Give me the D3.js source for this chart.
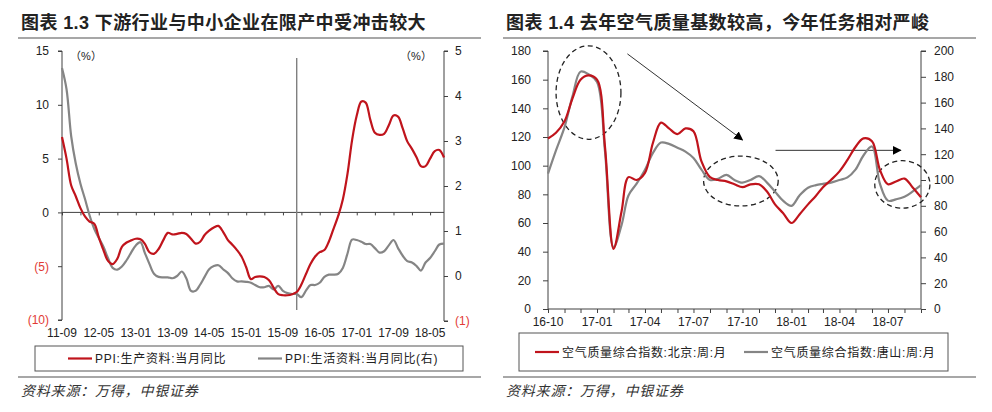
<!DOCTYPE html>
<html><head><meta charset="utf-8">
<script src="https://cdn.jsdelivr.net/npm/d3@7"></script>
<style>
body{margin:0;background:#fff}
svg{display:block}
text{font-family:"Liberation Sans","Noto Sans CJK SC",sans-serif}
</style>
</head><body>
<svg id="c" width="992" height="412"></svg>
<script>
// ---------------- Chart 1.3 data ----------------
const ppiTitle = "图表 1.3 下游行业与中小企业在限产中受冲击较大";
const ppiStart = "2011-09-01", ppiEnd = "2018-08-01";
const ppiProduction = [7.0,5.0,2.5,1.5,0.4,-0.4,-0.85,-1.05,-2.3,-3.5,-4.5,-4.8,-4.3,-3.2,-2.8,-2.6,-2.45,-2.5,-2.9,-3.7,
  -3.85,-3.4,-2.6,-1.9,-2.05,-2.0,-1.9,-2.0,-2.45,-2.9,-2.75,-2.1,-1.7,-1.4,-1.25,-1.8,-2.55,-3.0,-3.5,-4.1,
  -5.1,-6.2,-6.0,-5.95,-6.0,-6.3,-7.0,-7.6,-7.7,-7.7,-7.6,-7.4,-6.7,-5.7,-4.8,-4.1,-3.7,-3.5,-2.7,-1.5,
  -0.3,1.2,3.6,6.7,9.0,10.3,10.2,8.6,7.4,7.2,7.3,8.1,9.0,8.9,7.8,6.6,5.9,5.1,4.3,4.3,
  5.0,5.7,5.8,5.1];
const ppiConsumer = [4.62,4.15,3.1,2.5,2.05,1.7,1.35,1.05,0.85,0.65,0.4,0.18,0.14,0.21,0.35,0.52,0.68,0.75,0.52,0.27,
  0.05,-0.02,-0.03,-0.03,-0.05,0.0,0.1,-0.05,-0.33,-0.33,-0.2,-0.02,0.15,0.22,0.24,0.15,0.07,-0.05,-0.12,-0.12,
  -0.13,-0.15,-0.2,-0.25,-0.25,-0.22,-0.3,-0.22,-0.33,-0.38,-0.4,-0.4,-0.47,-0.32,-0.2,-0.2,-0.15,-0.02,0.03,0.03,
  0.05,0.18,0.5,0.81,0.8,0.76,0.71,0.71,0.62,0.52,0.55,0.68,0.8,0.62,0.45,0.33,0.3,0.22,0.12,0.3,
  0.4,0.55,0.7,0.72];
const ppiLeftTicks = [-10,-5,0,5,10,15];
const ppiRightTicks = [-1,0,1,2,3,4,5];
const ppiLabelMonths = ["2011-09","2012-05","2013-01","2013-09","2014-05","2015-01","2015-09","2016-05","2017-01","2017-09","2018-05"];
const ppiMarkMonth = "2015-12";
const ppiLegend = ["PPI:生产资料:当月同比","PPI:生活资料:当月同比(右)"];

// ---------------- Chart 1.4 data ----------------
const airTitle = "图表 1.4 去年空气质量基数较高，今年任务相对严峻";
const airStart = "2016-10-01", airEnd = "2018-09-01";
// half-month samples from 2016-10 (start of month, mid month, ...)
const airBeijing = [119,123,131,147,160,163,160,113,42,68,92,90,95,116,130,126,122,126,124,103,
  92,90,89,87,85,87,87,82,73,67,60,66,73,79,85,90,96,104,113,119,
  117,97,87,89,91,85,78];
const airTangshan = [105,123,141,165,184,182,176,122,48,65,88,97,108,121,129,128,125,122,117,108,
  100,101,104,100,98,100,103,98,91,84,80,88,94,96,97,98,100,102,108,119,
  126,97,84,85,87,91,96];
const airLeftTicks = [0,20,40,60,80,100,120,140,160,180];
const airRightTicks = [0,20,40,60,80,100,120,140,160,180,200];
const airLabelMonths = ["2016-10","2017-01","2017-04","2017-07","2017-10","2018-01","2018-04","2018-07"];
const airLegend = ["空气质量综合指数:北京:周:月","空气质量综合指数:唐山:周:月"];
// annotations in data units: [centerDate, centerValue(left axis), radiusMonths, radiusValue]
const airEllipses = [["2016-12-16",151,2.0,32.6],["2017-09-28",89.3,2.3,17.4],["2018-07-28",86.9,1.7,16.6]];
const airArrows = [[["2017-02-27",178],["2017-10-01",118]],[["2017-12-02",110.7],["2018-07-25",110.7]]];
const sourceText = "资料来源：万得，中银证券";

const RED = "#c0141c", GRAY = "#858585", AXIS = "#404040", NEG = "#e23a35";
const svg = d3.select("#c");
const parse = d3.timeParse("%Y-%m-%d");
const parseM = d3.timeParse("%Y-%m");
const fmtM = d3.timeFormat("%y-%m");
const negFmt = v => v < 0 ? `(${-v})` : `${v}`;

svg.append("defs").append("marker").attr("id","arr").attr("viewBox","0 0 10 10")
  .attr("refX",9).attr("refY",5).attr("markerWidth",9).attr("markerHeight",9).attr("orient","auto")
  .attr("markerUnits","userSpaceOnUse")
  .append("path").attr("d","M0,0L10,5L0,10Z").attr("fill","#000");

function frame(x0, x1, title) {
  svg.append("text").attr("x", x0 + 3).attr("y", 29).attr("font-size", 18).attr("font-weight", 700)
    .attr("letter-spacing", 0.4).attr("fill", "#222").text(title);
  svg.append("line").attr("x1", x0).attr("x2", x1).attr("y1", 38).attr("y2", 38).attr("stroke", "#8a8a8a").attr("stroke-width", 1.6);
  svg.append("line").attr("x1", x0).attr("x2", x1).attr("y1", 377).attr("y2", 377).attr("stroke", "#8a8a8a").attr("stroke-width", 1.6);
  svg.append("text").attr("x", x0 + 3).attr("y", 396).attr("font-size", 14).attr("font-style", "italic")
    .attr("letter-spacing", 0.8).attr("fill", "#333").text(sourceText);
}

function legend(bx, by, bw, bh, items) {
  svg.append("rect").attr("x", bx).attr("y", by).attr("width", bw).attr("height", bh)
    .attr("fill", "none").attr("stroke", "#555").attr("stroke-width", 1);
  items.forEach(it => {
    svg.append("line").attr("x1", it.x).attr("x2", it.x + 24).attr("y1", by + bh / 2).attr("y2", by + bh / 2)
      .attr("stroke", it.color).attr("stroke-width", 2.2);
    svg.append("text").attr("x", it.x + 27).attr("y", by + bh / 2 + 4.5).attr("font-size", 12)
      .attr("letter-spacing", 0.7).attr("fill", "#222").text(it.label);
  });
}

// ================= Chart 1.3 =================
{
  frame(18, 481, ppiTitle);
  const months = d3.timeMonth.range(parse(ppiStart), d3.timeMonth.offset(parse(ppiEnd), 1));
  const x = d3.scaleTime().domain([parse(ppiStart), parse(ppiEnd)]).range([62, 444]);
  const yL = d3.scaleLinear().domain([-10, 15]).range([320, 51]);
  const yR = d3.scaleLinear().domain([-1, 5]).range([321, 51]);

  const gl = svg.append("g").attr("transform", "translate(62,0)")
    .call(d3.axisLeft(yL).tickValues(ppiLeftTicks).tickSize(4).tickPadding(9).tickFormat(negFmt));
  gl.select(".domain").attr("stroke", AXIS).attr("d", `M-4,${yL(15)}H0V${yL(-10)}H-4`);
  gl.selectAll(".tick line").attr("stroke", AXIS);
  gl.selectAll(".tick text").attr("font-size", 12).attr("fill", d => d < 0 ? NEG : "#222")
    .attr("font-family", '"Liberation Sans",Arial,sans-serif');

  const gr = svg.append("g").attr("transform", "translate(444,0)")
    .call(d3.axisRight(yR).tickValues(ppiRightTicks).tickSize(4).tickPadding(7).tickFormat(negFmt));
  gr.select(".domain").attr("stroke", AXIS).attr("d", `M4,${yR(5)}H0V${yR(-1)}H4`);
  gr.selectAll(".tick line").attr("stroke", AXIS);
  gr.selectAll(".tick text").attr("font-size", 12).attr("fill", d => d < 0 ? NEG : "#222")
    .attr("font-family", '"Liberation Sans",Arial,sans-serif');

  const tickDates = d3.timeMonth.range(parse(ppiStart), parse(ppiEnd), 4);
  const gx = svg.append("g").attr("transform", `translate(0,${yL(0)})`)
    .call(d3.axisBottom(x).tickValues(tickDates).tickSize(3).tickFormat(""));
  gx.select(".domain").attr("stroke", AXIS).attr("d", `M${x.range()[0]},0H${x.range()[1]}`);
  gx.selectAll(".tick line").attr("stroke", AXIS);

  svg.append("g").selectAll("text").data(ppiLabelMonths).join("text")
    .attr("x", d => x(parseM(d))).attr("y", 337).attr("text-anchor", "middle").attr("font-size", 12)
    .attr("fill", "#222").attr("font-family", '"Liberation Sans",Arial,sans-serif')
    .text(d => fmtM(parseM(d)));

  svg.append("text").attr("x", 86).attr("y", 60).attr("text-anchor", "middle").attr("font-size", 11).attr("fill", "#222").text("（%）");
  svg.append("text").attr("x", 416).attr("y", 60).attr("text-anchor", "middle").attr("font-size", 11).attr("fill", "#222").text("（%）");

  svg.append("line").attr("x1", x(parseM(ppiMarkMonth))).attr("x2", x(parseM(ppiMarkMonth)))
    .attr("y1", 58).attr("y2", 310).attr("stroke", "#808080").attr("stroke-width", 1.4);

  const lineL = d3.line().x((d, i) => x(months[i])).y(d => yL(d)).curve(d3.curveCatmullRom.alpha(0.5));
  const lineR = d3.line().x((d, i) => x(months[i])).y(d => yR(d)).curve(d3.curveCatmullRom.alpha(0.5));
  svg.append("path").attr("d", lineR(ppiConsumer)).attr("fill", "none").attr("stroke", GRAY).attr("stroke-width", 2.2);
  svg.append("path").attr("d", lineL(ppiProduction)).attr("fill", "none").attr("stroke", RED).attr("stroke-width", 2.2);

  legend(35, 346, 428, 25, [{x: 68, color: RED, label: ppiLegend[0]}, {x: 258, color: GRAY, label: ppiLegend[1]}]);
}

// ================= Chart 1.4 =================
{
  frame(503, 976, airTitle);
  const months = d3.timeMonth.range(parse(airStart), d3.timeMonth.offset(parse(airEnd), 1));
  const dates = [];
  months.forEach((m, i) => { dates.push(m); if (i < months.length - 1) dates.push(d3.timeDay.offset(m, 15)); });
  const x = d3.scaleTime().domain([parse(airStart), parse(airEnd)]).range([548, 921]);
  const yL = d3.scaleLinear().domain([0, 180]).range([309, 51]);
  const yR = d3.scaleLinear().domain([0, 200]).range([309, 51]);

  const gl = svg.append("g").attr("transform", "translate(548,0)")
    .call(d3.axisLeft(yL).tickValues(airLeftTicks).tickSize(5).tickPadding(12));
  gl.select(".domain").attr("stroke", AXIS).attr("d", `M-5,${yL(180)}H0V${yL(0)}`);
  gl.selectAll(".tick line").attr("stroke", AXIS);
  gl.selectAll(".tick text").attr("font-size", 12).attr("fill", "#222").attr("font-family", '"Liberation Sans",Arial,sans-serif');

  const gr = svg.append("g").attr("transform", "translate(921,0)")
    .call(d3.axisRight(yR).tickValues(airRightTicks).tickSize(5).tickPadding(8));
  gr.select(".domain").attr("stroke", AXIS).attr("d", `M5,${yR(200)}H0V${yR(0)}`);
  gr.selectAll(".tick line").attr("stroke", AXIS);
  gr.selectAll(".tick text").attr("font-size", 12).attr("fill", "#222").attr("font-family", '"Liberation Sans",Arial,sans-serif');

  const gx = svg.append("g").attr("transform", `translate(0,309)`)
    .call(d3.axisBottom(x).tickValues(months).tickSize(4).tickFormat(""));
  gx.select(".domain").attr("stroke", AXIS).attr("d", `M548,0H921`);
  gx.selectAll(".tick line").attr("stroke", AXIS);

  svg.append("g").selectAll("text").data(airLabelMonths).join("text")
    .attr("x", d => x(parseM(d))).attr("y", 326).attr("text-anchor", "middle").attr("font-size", 12)
    .attr("fill", "#222").attr("font-family", '"Liberation Sans",Arial,sans-serif')
    .text(d => fmtM(parseM(d)));

  const pxPerMonth = (x.range()[1] - x.range()[0]) / (months.length - 1);
  const pxPerUnit = (yL.range()[0] - yL.range()[1]) / 180;
  svg.append("g").selectAll("ellipse").data(airEllipses).join("ellipse")
    .attr("cx", d => x(parse(d[0]))).attr("cy", d => yL(d[1]))
    .attr("rx", d => d[2] * pxPerMonth).attr("ry", d => d[3] * pxPerUnit)
    .attr("fill", "none").attr("stroke", "#222").attr("stroke-width", 1.3).attr("stroke-dasharray", "5,3.5");
  svg.append("g").selectAll("line").data(airArrows).join("line")
    .attr("x1", d => x(parse(d[0][0]))).attr("y1", d => yL(d[0][1]))
    .attr("x2", d => x(parse(d[1][0]))).attr("y2", d => yL(d[1][1]))
    .attr("stroke", "#333").attr("stroke-width", 1).attr("marker-end", "url(#arr)");

  const lineL = d3.line().x((d, i) => x(dates[i])).y(d => yL(d)).curve(d3.curveCatmullRom.alpha(0.5));
  const lineR = d3.line().x((d, i) => x(dates[i])).y(d => yR(d)).curve(d3.curveCatmullRom.alpha(0.5));
  svg.append("path").attr("d", lineR(airTangshan)).attr("fill", "none").attr("stroke", GRAY).attr("stroke-width", 2.2);
  svg.append("path").attr("d", lineL(airBeijing)).attr("fill", "none").attr("stroke", RED).attr("stroke-width", 2.2);

  legend(519, 333, 429, 38, [{x: 535, color: RED, label: airLegend[0]}, {x: 744, color: GRAY, label: airLegend[1]}]);
}
</script>
</body></html>
